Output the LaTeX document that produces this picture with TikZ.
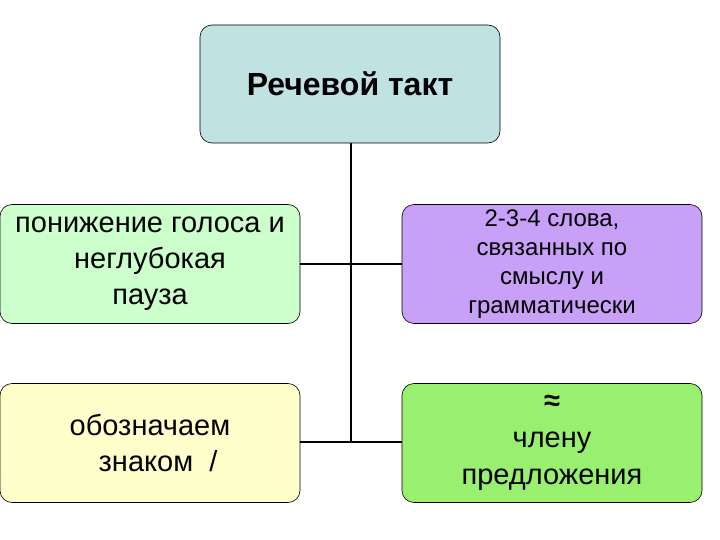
\documentclass[tikz,border=0pt]{standalone}
\usepackage{fontspec}
\setmainfont{Liberation Sans}
\begin{document}
\begin{tikzpicture}[x=1pt,y=-1pt,
 bx/.style={draw=black,line width=0.6pt,rounded corners=12pt,minimum width=300pt,minimum height=119pt,align=center,font=\fontsize{29}{36}\selectfont,inner sep=0pt},
 ln/.style={line width=1.8pt}]
\useasboundingbox (0,0) rectangle (720,540);
\definecolor{cb}{HTML}{C0E2E2}
\definecolor{cg}{HTML}{CCFFCC}
\definecolor{cy}{HTML}{FFFFCC}
\definecolor{cv}{HTML}{C9A0F7}
\definecolor{cgg}{HTML}{99F070}
\node[bx,fill=cb,minimum height=118pt,font=\fontsize{32}{38}\selectfont\bfseries] (t) at (350,84) {Речевой такт};
\node[bx,fill=cg] (l1) at (150,264) {понижение голоса и\\неглубокая\\пауза};
\node[bx,fill=cy] (l2) at (150,443) {обозначаем\\\ \ знаком \ /};
\node[bx,fill=cv,font=\fontsize{24}{29}\selectfont] (r1) at (552,264) {2-3-4 слова,\\связанных по\\смыслу и\\грамматически};
\node[bx,fill=cgg,font=\fontsize{29}{37}\selectfont] (r2) at (552,443) {\textbf{≈}\\члену\\предложения};
\coordinate (j) at (351,442);
\draw[ln] (t.south -| j) -- (j);
\draw[ln] (l1.east) -- (r1.west);
\draw[ln] (l2.east |- j) -- (r2.west |- j);
\end{tikzpicture}
\end{document}
